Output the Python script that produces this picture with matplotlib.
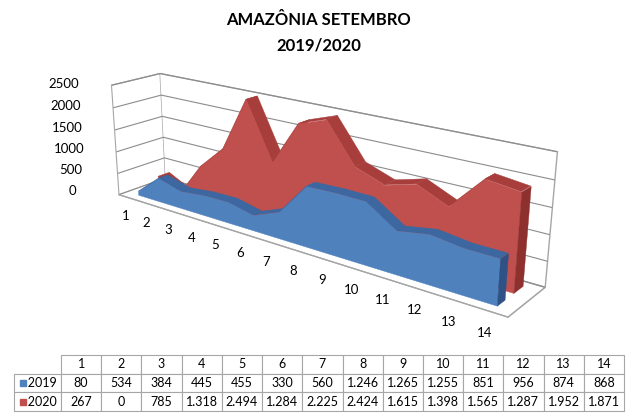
import numpy as np
import matplotlib.pyplot as plt
from mpl_toolkits.mplot3d.art3d import Poly3DCollection

plt.rcParams['font.family'] = ['Lato', 'DejaVu Sans']

# dados (tabela do gráfico)
dias = list(range(1, 15))
focos_2019 = [80, 534, 384, 445, 455, 330, 560, 1246, 1265, 1255, 851, 956, 874, 868]
focos_2020 = [267, 0, 785, 1318, 2494, 1284, 2225, 2424, 1615, 1398, 1565, 1287, 1952, 1871]
z_ticks = [0, 500, 1000, 1500, 2000, 2500]

azul, azul_esc, azul_top = "#4F81BD", "#2F5286", "#3C67A0"
verm, verm_esc, verm_top = "#C0504D", "#8E302E", "#A83E3B"


def fmt(v):
    return f"{v:,}".replace(",", ".")


def slab(ax, xs, vals, y0, y1, c_front, c_top, c_cap, z):
    front = [(xs[0], y0, 0)] + [(x, y0, v) for x, v in zip(xs, vals)] + [(xs[-1], y0, 0)]
    tops = []
    for i in range(len(xs) - 1):
        tops.append([(xs[i], y0, vals[i]), (xs[i + 1], y0, vals[i + 1]),
                     (xs[i + 1], y1, vals[i + 1]), (xs[i], y1, vals[i])])
    cap = [(xs[-1], y0, 0), (xs[-1], y0, vals[-1]), (xs[-1], y1, vals[-1]), (xs[-1], y1, 0)]
    for k, (faces, cor) in enumerate([(tops, c_top), ([front], c_front), ([cap], c_cap)]):
        pc = Poly3DCollection(faces, facecolor=cor, edgecolor=cor, linewidth=0.3)
        pc.set_zorder(z + k)
        pc.set_clip_on(False)
        ax.add_collection3d(pc)


fig = plt.figure(figsize=(6.37, 4.2), dpi=100)
fig.text(0.5, 0.952, "AMAZÔNIA SETEMBRO", ha="center", va="center", fontsize=12, fontweight="bold")
fig.text(0.5, 0.892, "2019/2020", ha="center", va="center", fontsize=12, fontweight="bold")

ax = fig.add_axes([0.0, 0.19, 0.95, 0.76], projection="3d", computed_zorder=False)
ax.set_proj_type("persp", focal_length=0.55)
ax.view_init(elev=19, azim=-52)
ax.set_box_aspect((4.0, 0.6, 1.05), zoom=1.55)

slab(ax, dias, focos_2020, 1.85, 2.6, verm, verm_top, verm_esc, 1)
slab(ax, dias, focos_2019, 0.55, 1.15, azul, azul_top, azul_esc, 4)

ax.set_xlim(0.5, 14.5)
ax.set_ylim(0, 3)
ax.set_zlim(0, 2500)
ax.set_xticks(dias)
ax.set_xticklabels([str(d) for d in dias], fontsize=9.5)
ax.set_yticks([])
ax.set_zticks(z_ticks)
ax.set_zticklabels([str(t) for t in z_ticks], fontsize=9.5)
ax.zaxis.set_ticks_position("lower")
ax.zaxis.set_tick_params(pad=9)

for a in (ax.xaxis, ax.yaxis, ax.zaxis):
    a.set_pane_color((1, 1, 1, 1))
    a.pane.set_edgecolor("#A6A6A6")
    a.line.set_color("#A6A6A6")
    a._axinfo["tick"]["inward_factor"] = 0
    a._axinfo["tick"]["outward_factor"] = 0
ax.grid(True)
ax.xaxis._axinfo["grid"]["color"] = (1, 1, 1, 0)
ax.yaxis._axinfo["grid"]["color"] = (1, 1, 1, 0)
ax.zaxis._axinfo["grid"]["color"] = "#8C8C8C"
ax.zaxis._axinfo["grid"]["linewidth"] = 0.8

# tabela de dados
ax_t = fig.add_axes([14 / 637, 9 / 420, 610 / 637, 56 / 420])
ax_t.axis("off")
ax_t.set_xlim(0, 1)
ax_t.set_ylim(0, 1)
celulas = [[""] + [str(d) for d in dias],
           ["   2019"] + [fmt(v) for v in focos_2019],
           ["   2020"] + [fmt(v) for v in focos_2020]]
w0 = 47 / 610
larg = [w0] + [(1 - w0) / 14] * 14
tab = ax_t.table(cellText=celulas, colWidths=larg, cellLoc="center", bbox=[0, 0, 1, 1])
tab.auto_set_font_size(False)
tab.set_fontsize(9)
for (r, c), cel in tab.get_celld().items():
    cel.set_edgecolor("#A6A6A6")
    cel.set_linewidth(0.8)
tab[0, 0].visible_edges = ""
ax_t.plot([0.014], [0.5], "s", color=azul, markersize=4)
ax_t.plot([0.014], [1 / 6], "s", color=verm, markersize=4)

fig.savefig("out.png", dpi=100)
